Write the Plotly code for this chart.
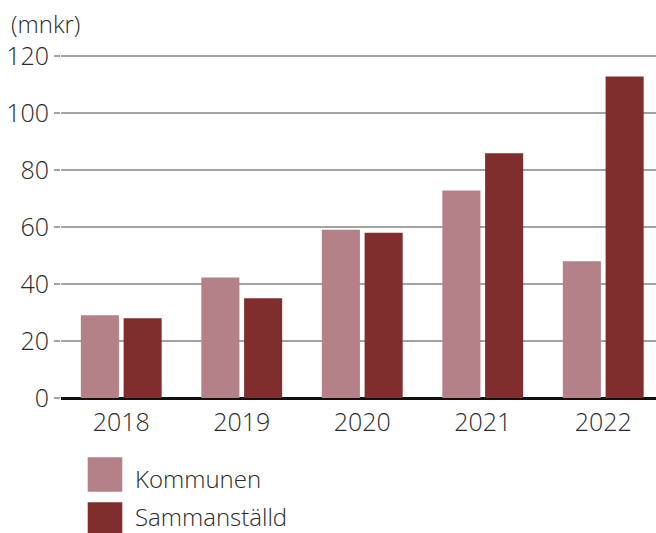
import plotly.graph_objects as go

years = ["2018", "2019", "2020", "2021", "2022"]
kommunen = [29, 42.3, 59, 72.8, 48]
sammanstalld = [28, 35, 58, 85.8, 112.8]
series_names = ["Kommunen", "Sammanställd"]
colors = ["#b38187", "#7f2e2d"]
y_ticks = [0, 20, 40, 60, 80, 100, 120]
unit_label = "(mnkr)"

FONT = "Open Sans, sans-serif"
TXT = "#2a2a2a"

def font(size):
    return dict(family=FONT, size=size, color=TXT, weight=300)

W, H = 656, 533
L, T, B = 61, 53, 135
PW = W - L
PH = H - T - B

fig = go.Figure()
for name, vals, c in zip(series_names, [kommunen, sammanstalld], colors):
    fig.add_trace(go.Bar(x=years, y=vals, name=name, marker=dict(color=c, line=dict(width=0)),
                         showlegend=False))

def px_x(p):
    return (p - L) / PW

def px_y(p):
    return (H - B - p) / PH

# manual legend with large swatches
leg_rows = [(457.3, 491.7, 478), (502.3, 540, 516)]
for (y0, y1, yc), name, c in zip(leg_rows, series_names, colors):
    fig.add_shape(type="rect", xref="paper", yref="paper",
                  x0=px_x(87.7), x1=px_x(122.3), y0=px_y(y1), y1=px_y(y0),
                  fillcolor=c, line=dict(width=0))
    fig.add_annotation(xref="paper", yref="paper", x=px_x(133), y=px_y(yc),
                       xanchor="left", yanchor="middle", text=name, showarrow=False,
                       font=font(24))

fig.add_annotation(xref="paper", yref="paper", x=px_x(9), y=px_y(24),
                   xanchor="left", yanchor="middle", text=unit_label, showarrow=False,
                   font=font(24))

fig.update_layout(
    width=W, height=H,
    margin=dict(l=L, r=0, t=T, b=B, pad=0),
    paper_bgcolor="white", plot_bgcolor="white",
    barmode="group", bargap=0.29, bargroupgap=0.11,
    font=font(25),
    xaxis=dict(range=[-0.5, -0.5 + PW / 120.5], showgrid=False, zeroline=False,
               showline=False, ticks="", tickfont=font(25), ticklabelstandoff=7),
    yaxis=dict(range=[0, 121], tickvals=y_ticks, showgrid=True, gridcolor="#a3a3a3",
               gridwidth=1.5, zeroline=True, zerolinecolor="#111111", zerolinewidth=3,
               ticks="outside", ticklen=6, tickcolor="#a3a3a3", tickwidth=1.5,
               showline=False, tickfont=font(25), ticklabelstandoff=0),
)

fig.write_html("out.html", config={"displayModeBar": False},
               post_script="document.body.style.margin='0';document.body.style.overflow='hidden';")
